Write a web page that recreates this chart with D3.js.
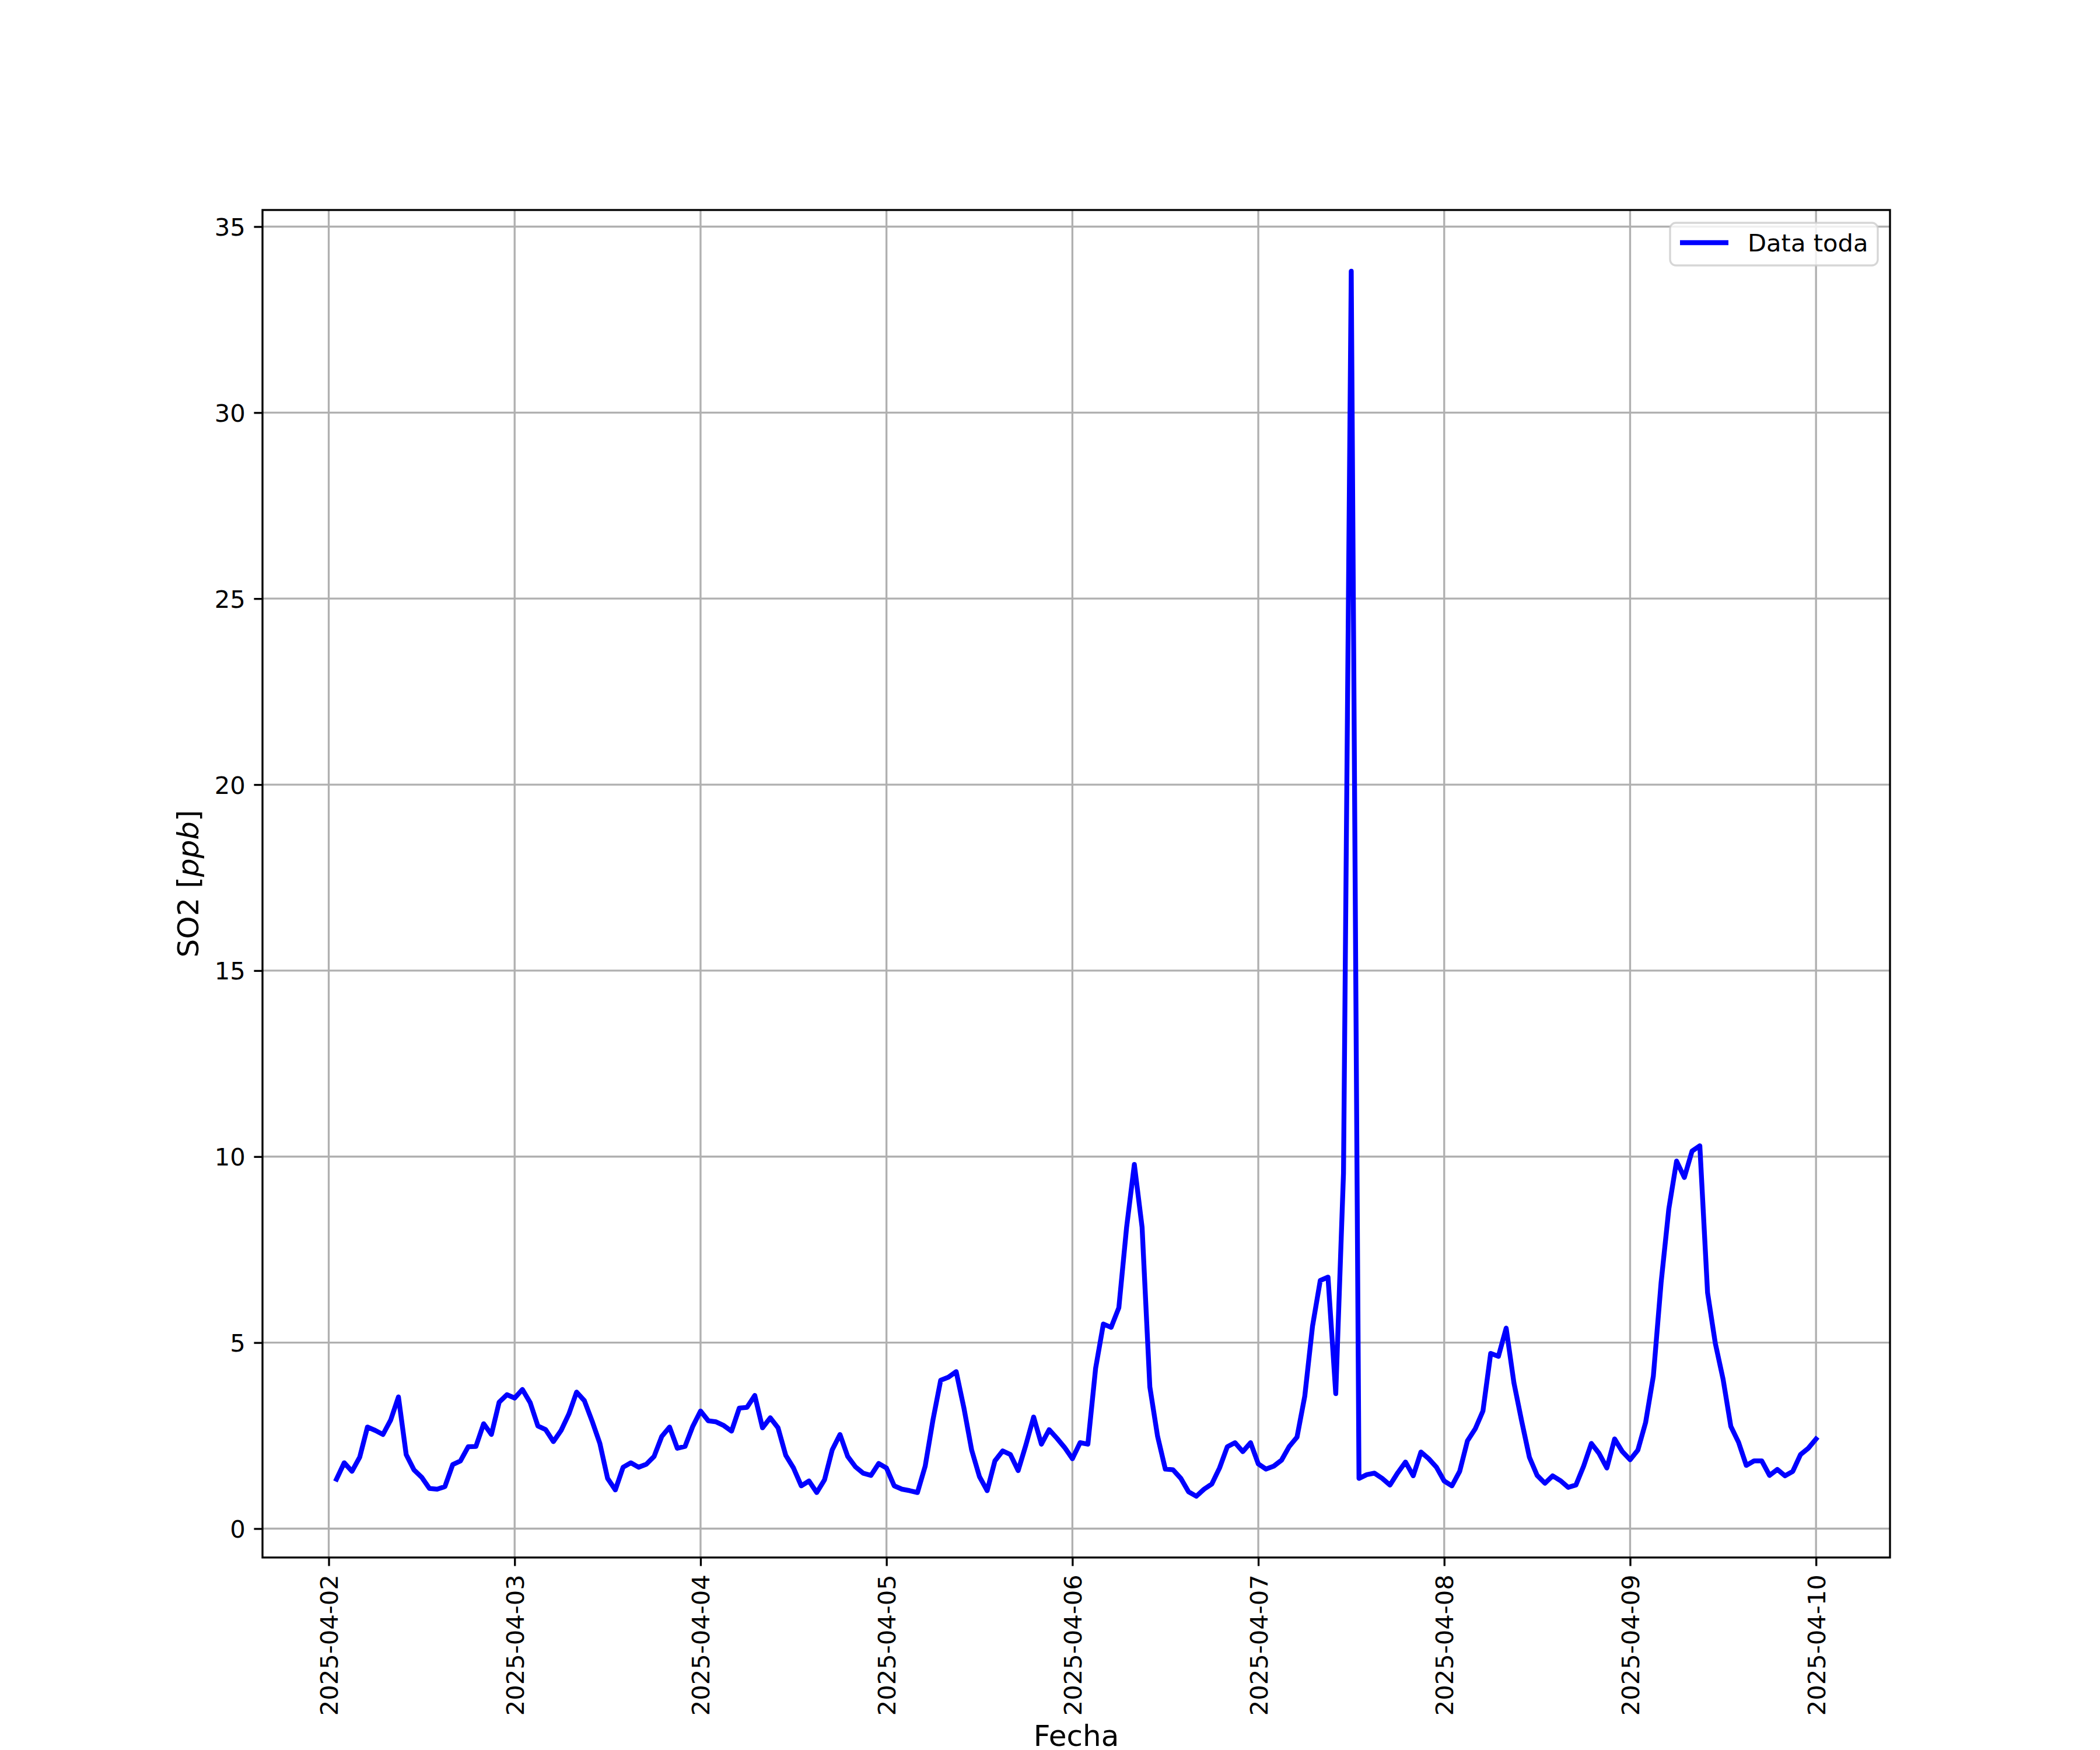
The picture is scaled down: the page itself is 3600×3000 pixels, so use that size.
<!DOCTYPE html>
<html>
<head>
<meta charset="utf-8">
<script src="https://cdn.jsdelivr.net/npm/d3@7"></script>
<style>
  html, body { margin: 0; padding: 0; background: #ffffff; }
  svg { display: block; font-family: "DejaVu Sans", sans-serif; }
</style>
</head>
<body>
<script>
// ---------------- DATA (hourly SO2, ppb) ----------------
const startTime = "2025-04-02T01:00:00Z"; // first hourly sample
const so2_0402 = [1.33, 1.77, 1.54, 1.92, 2.73, 2.64, 2.53, 2.92, 3.54, 1.99, 1.58, 1.38, 1.08, 1.06, 1.13, 1.72, 1.82, 2.20, 2.21, 2.82, 2.53, 3.40, 3.60, 3.51];
const so2_0403 = [3.74, 3.39, 2.76, 2.66, 2.34, 2.64, 3.08, 3.67, 3.44, 2.89, 2.29, 1.35, 1.04, 1.65, 1.77, 1.65, 1.73, 1.94, 2.48, 2.73, 2.16, 2.21, 2.75, 3.16];
const so2_0404 = [2.90, 2.87, 2.77, 2.62, 3.24, 3.26, 3.58, 2.71, 2.98, 2.71, 1.97, 1.63, 1.15, 1.28, 0.97, 1.31, 2.12, 2.53, 1.94, 1.66, 1.49, 1.43, 1.75, 1.63];
const so2_0405 = [1.15, 1.06, 1.02, 0.97, 1.68, 2.92, 3.99, 4.07, 4.22, 3.24, 2.11, 1.40, 1.02, 1.82, 2.09, 1.99, 1.56, 2.25, 3.00, 2.27, 2.66, 2.43, 2.18, 1.88];
const so2_0406 = [2.31, 2.27, 4.31, 5.50, 5.41, 5.94, 8.10, 9.79, 8.10, 3.81, 2.48, 1.60, 1.58, 1.35, 0.99, 0.87, 1.06, 1.20, 1.63, 2.20, 2.31, 2.07, 2.31, 1.74];
const so2_0407 = [1.60, 1.68, 1.84, 2.21, 2.46, 3.56, 5.44, 6.67, 6.76, 3.63, 9.55, 33.80, 1.35, 1.45, 1.49, 1.35, 1.17, 1.50, 1.79, 1.42, 2.06, 1.88, 1.65, 1.28];
const so2_0408 = [1.15, 1.54, 2.36, 2.68, 3.16, 4.71, 4.63, 5.39, 3.92, 2.89, 1.92, 1.43, 1.22, 1.42, 1.29, 1.11, 1.17, 1.68, 2.29, 2.02, 1.63, 2.41, 2.07, 1.85];
const so2_0409 = [2.11, 2.85, 4.10, 6.61, 8.60, 9.88, 9.44, 10.15, 10.29, 6.34, 4.98, 4.02, 2.75, 2.32, 1.70, 1.82, 1.82, 1.43, 1.59, 1.42, 1.54, 1.99, 2.16, 2.41];

const xTickLabels = ["2025-04-02", "2025-04-03", "2025-04-04", "2025-04-05", "2025-04-06", "2025-04-07", "2025-04-08", "2025-04-09", "2025-04-10"];
const yTickValues = [0, 5, 10, 15, 20, 25, 30, 35];
const seriesName = "Data toda";
const xLabel = "Fecha";

// ---------------- BUILD ----------------
(function () {
const values = [].concat(so2_0402, so2_0403, so2_0404, so2_0405, so2_0406, so2_0407, so2_0408, so2_0409);
const t0 = new Date(startTime);
const data = values.map((v, i) => ({ t: d3.utcHour.offset(t0, i), v: v }));

const W = 3600, H = 3000;
const pL = 450, pR = 3240, pT = 360, pB = 2670;
const pt = 300 / 72; // px per point

const svg = d3.select("body").append("svg")
  .attr("width", W).attr("height", H)
  .attr("viewBox", `0 0 ${W} ${H}`);
svg.append("rect").attr("width", W).attr("height", H).attr("fill", "#ffffff");

// matplotlib-like 5% margins
const tExt = d3.extent(data, d => d.t);
const tPad = (tExt[1] - tExt[0]) * 0.05;
const vExt = d3.extent(data, d => d.v);
const vPad = (vExt[1] - vExt[0]) * 0.05;

const x = d3.scaleUtc()
  .domain([new Date(+tExt[0] - tPad), new Date(+tExt[1] + tPad)])
  .range([pL, pR]);
const y = d3.scaleLinear()
  .domain([vExt[0] - vPad, vExt[1] + vPad])
  .range([pB, pT]);

const xTickDates = xTickLabels.map(s => new Date(s + "T00:00:00Z"));

const fs = 10 * pt;     // tick label font size
const lfs = 12 * pt;    // axis label font size
const tickLen = 3.5 * pt, tickPad = 3.5 * pt;
const lw = 0.8 * pt;

// grid
const grid = svg.append("g");
grid.selectAll(".gx").data(xTickDates).join("line")
  .attr("x1", d => x(d)).attr("x2", d => x(d))
  .attr("y1", pT).attr("y2", pB)
  .attr("stroke", "#b0b0b0").attr("stroke-width", lw);
grid.selectAll(".gy").data(yTickValues).join("line")
  .attr("x1", pL).attr("x2", pR)
  .attr("y1", d => y(d)).attr("y2", d => y(d))
  .attr("stroke", "#b0b0b0").attr("stroke-width", lw);

// data line
const line = d3.line().x(d => x(d.t)).y(d => y(d.v));
svg.append("path").datum(data)
  .attr("d", line)
  .attr("fill", "none")
  .attr("stroke", "#0000ff")
  .attr("stroke-width", 2 * pt)
  .attr("stroke-linejoin", "round")
  .attr("stroke-linecap", "square");

// x axis
const xAxis = d3.axisBottom(x)
  .tickValues(xTickDates)
  .tickFormat((d, i) => xTickLabels[i])
  .tickSize(tickLen).tickSizeOuter(0).tickPadding(tickPad);
const gx = svg.append("g").attr("transform", `translate(0,${pB})`).call(xAxis);
gx.select(".domain").remove();
gx.selectAll(".tick line").attr("stroke", "#000").attr("stroke-width", lw);
gx.selectAll(".tick text")
  .attr("font-family", "DejaVu Sans").attr("font-size", fs).attr("fill", "#000")
  .attr("text-anchor", "end")
  .attr("dy", null)
  .attr("y", 0)
  .attr("x", 0)
  .attr("transform", `translate(${0.36 * fs},${tickLen + tickPad}) rotate(-90)`);

// y axis
const yAxis = d3.axisLeft(y)
  .tickValues(yTickValues)
  .tickFormat(d3.format("d"))
  .tickSize(tickLen).tickSizeOuter(0).tickPadding(tickPad);
const gy = svg.append("g").attr("transform", `translate(${pL},0)`).call(yAxis);
gy.select(".domain").remove();
gy.selectAll(".tick line").attr("stroke", "#000").attr("stroke-width", lw);
gy.selectAll(".tick text")
  .attr("font-family", "DejaVu Sans").attr("font-size", fs).attr("fill", "#000")
  .attr("dy", "0.36em");

// spines
svg.append("rect")
  .attr("x", pL).attr("y", pT)
  .attr("width", pR - pL).attr("height", pB - pT)
  .attr("fill", "none").attr("stroke", "#000").attr("stroke-width", lw);

// axis labels
svg.append("text")
  .attr("x", (pL + pR) / 2).attr("y", 2993)
  .attr("text-anchor", "middle")
  .attr("font-family", "DejaVu Sans").attr("font-size", lfs).attr("fill", "#000")
  .text(xLabel);

const ylab = svg.append("text")
  .attr("transform", `translate(340,${(pT + pB) / 2}) rotate(-90)`)
  .attr("text-anchor", "middle")
  .attr("font-family", "DejaVu Sans").attr("font-size", lfs).attr("fill", "#000");
ylab.append("tspan").text("SO2 [");
ylab.append("tspan").attr("font-style", "italic").text("ppb");
ylab.append("tspan").text("]");

// legend
const lg = svg.append("g");
lg.append("rect")
  .attr("x", 2863).attr("y", 382)
  .attr("width", 3219 - 2863).attr("height", 455 - 382)
  .attr("rx", 10).attr("ry", 10)
  .attr("fill", "#ffffff").attr("fill-opacity", 0.8)
  .attr("stroke", "#cccccc").attr("stroke-opacity", 0.8)
  .attr("stroke-width", lw);
lg.append("line")
  .attr("x1", 2880).attr("x2", 2963)
  .attr("y1", 416).attr("y2", 416)
  .attr("stroke", "#0000ff").attr("stroke-width", 2 * pt);
lg.append("text")
  .attr("x", 2996).attr("y", 431)
  .attr("font-family", "DejaVu Sans").attr("font-size", fs).attr("fill", "#000")
  .text(seriesName);
})();
</script>
</body>
</html>
